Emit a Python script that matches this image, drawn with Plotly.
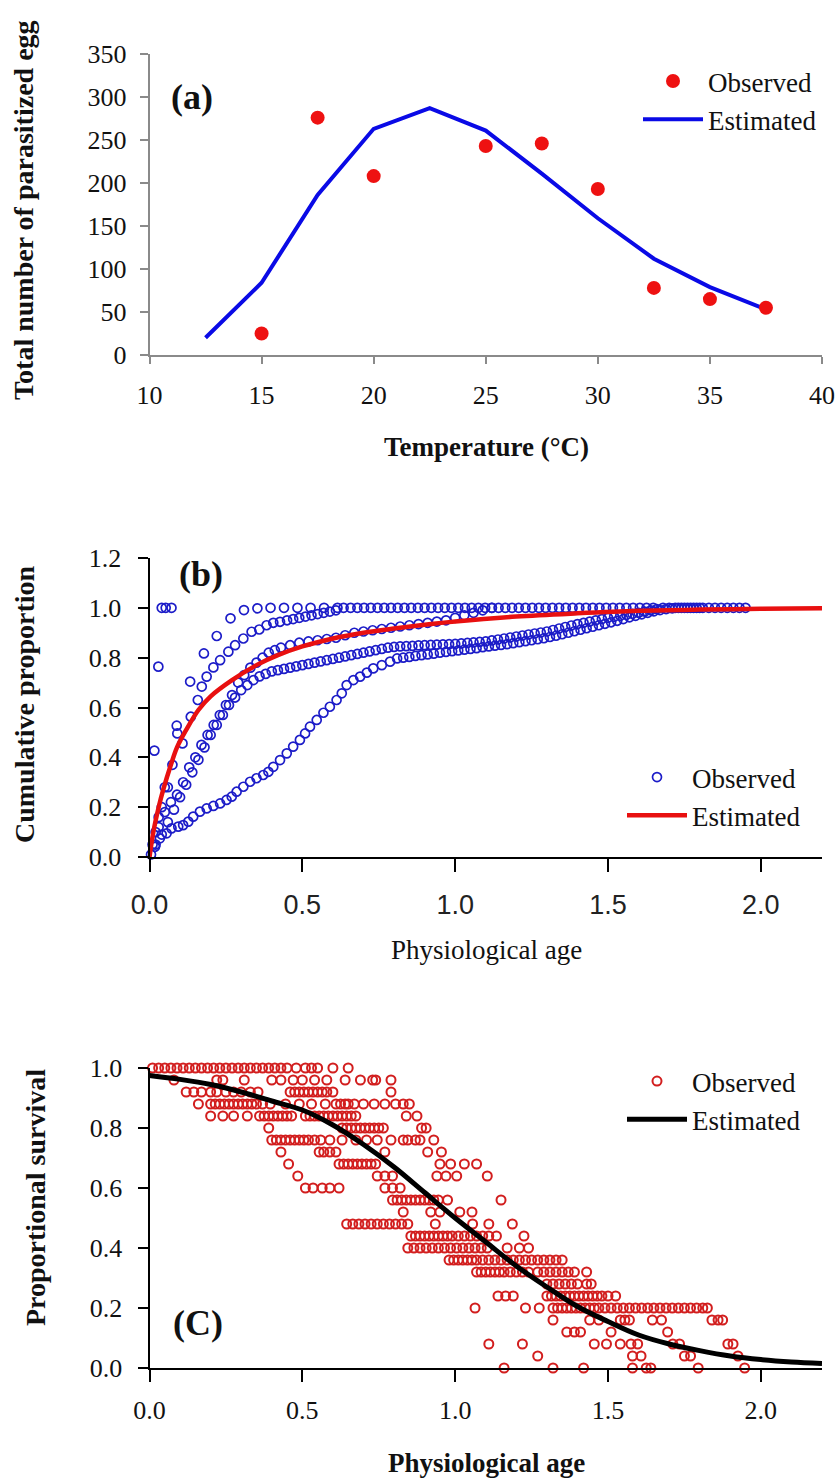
import plotly.graph_objects as go

W, H = 839, 1481


def px(x):
    """page pixel x -> paper fraction"""
    return x / W


def py(y):
    """page pixel y -> paper fraction"""
    return 1 - y / H


SERIF = "Liberation Serif"
SANS = "Liberation Sans"

# ---------------- Panel (a) ----------------
temp_obs = [15, 17.5, 20, 25, 27.5, 30, 32.5, 35, 37.5]
eggs_obs = [25, 276, 208, 243, 246, 193, 78, 65, 55]
temp_est = [12.5, 15, 17.5, 20, 22.5, 25, 27.5, 30, 32.5, 35, 37.5]
eggs_est = [20, 84, 186, 263, 287, 261, 211, 159, 112, 79, 53]
a_xticks = [10, 15, 20, 25, 30, 35, 40]
a_yticks = [0, 50, 100, 150, 200, 250, 300, 350]

# ---------------- Panel (b) : cumulative proportion ----------------
b1_x = [0.016, 0.029, 0.040, 0.053, 0.072]
b1_y = [0.427, 0.764, 1.000, 1.000, 1.000]

b2_x = [0.010, 0.030, 0.050, 0.089, 0.133, 0.178, 0.220, 0.265, 0.309, 0.353,
        0.396, 0.440, 0.484, 0.527, 0.571, 0.615, 0.658, 0.702, 0.746, 0.790,
        0.834, 0.878, 0.922, 0.966, 1.010, 1.054, 1.098, 1.142, 1.186, 1.230,
        1.274, 1.318, 1.362, 1.406, 1.450, 1.494, 1.538, 1.582, 1.626]
b2_y = [0.05, 0.16, 0.28, 0.527, 0.704, 0.817, 0.887, 0.958, 0.991, 0.998,
        1.0, 1.0, 1.0, 1.0, 1.0, 1.0, 1.0, 1.0, 1.0, 1.0,
        1.0, 1.0, 1.0, 1.0, 1.0, 1.0, 1.0, 1.0, 1.0, 1.0,
        1.0, 1.0, 1.0, 1.0, 1.0, 1.0, 1.0, 1.0, 1.0]

b3_x = [0.020, 0.040, 0.060, 0.075, 0.091, 0.108, 0.135, 0.158, 0.171, 0.187,
        0.209, 0.231, 0.258, 0.280, 0.307, 0.334, 0.359, 0.383, 0.405, 0.427,
        0.450, 0.470, 0.490, 0.510, 0.530, 0.550, 0.570, 0.590, 0.610, 0.635,
        0.680, 0.724, 0.768, 0.812, 0.856, 0.900, 0.944, 0.988, 1.032, 1.076,
        1.120, 1.164, 1.208, 1.252, 1.296, 1.340, 1.384, 1.428, 1.472, 1.516,
        1.560, 1.604, 1.648]
b3_y = [0.10, 0.20, 0.28, 0.37, 0.496, 0.456, 0.563, 0.630, 0.684, 0.724,
        0.761, 0.790, 0.824, 0.850, 0.877, 0.904, 0.913, 0.930, 0.940, 0.944,
        0.950, 0.955, 0.960, 0.965, 0.970, 0.975, 0.980, 0.985, 0.990, 1.0,
        1.0, 1.0, 1.0, 1.0, 1.0, 1.0, 1.0, 1.0, 1.0, 1.0,
        1.0, 1.0, 1.0, 1.0, 1.0, 1.0, 1.0, 1.0, 1.0, 1.0,
        1.0, 1.0, 1.0]

b4_x = [0.03, 0.05, 0.07, 0.09, 0.11, 0.13, 0.15, 0.17, 0.19, 0.21,
        0.23, 0.25, 0.27, 0.29, 0.31, 0.33, 0.35, 0.37, 0.39, 0.41,
        0.43, 0.46, 0.49, 0.52, 0.55, 0.58, 0.61, 0.64, 0.67, 0.70,
        0.73, 0.76, 0.79, 0.82, 0.85, 0.88, 0.91, 0.94, 0.97, 1.00,
        1.03, 1.06, 1.09, 1.12]
b4_y = [0.12, 0.18, 0.22, 0.25, 0.30, 0.36, 0.40, 0.45, 0.49, 0.53,
        0.57, 0.61, 0.65, 0.70, 0.73, 0.76, 0.78, 0.80, 0.82, 0.83,
        0.84, 0.85, 0.86, 0.865, 0.87, 0.875, 0.88, 0.89, 0.90, 0.905,
        0.91, 0.915, 0.92, 0.925, 0.93, 0.935, 0.94, 0.945, 0.95, 0.96,
        0.97, 0.98, 0.99, 1.0]

b5_x = [0.02, 0.04, 0.06, 0.08, 0.10, 0.12, 0.14, 0.16, 0.18, 0.20,
        0.22, 0.24, 0.26, 0.28, 0.30, 0.32, 0.34, 0.36, 0.38, 0.40,
        0.42, 0.44, 0.46, 0.48, 0.50, 0.52, 0.54, 0.56, 0.58, 0.60,
        0.62, 0.64, 0.66, 0.68, 0.70, 0.72, 0.74, 0.76, 0.78, 0.80,
        0.82, 0.84, 0.86, 0.88, 0.90, 0.92, 0.94, 0.96, 0.98, 1.00,
        1.02, 1.04, 1.06, 1.08, 1.10, 1.12, 1.14, 1.16, 1.18, 1.20,
        1.22, 1.24, 1.26, 1.28, 1.30, 1.32, 1.34, 1.36, 1.38, 1.40,
        1.42, 1.44, 1.46, 1.48, 1.50, 1.52, 1.54, 1.56, 1.58, 1.60,
        1.62, 1.64, 1.66, 1.68, 1.70, 1.72, 1.74, 1.76, 1.78, 1.80]
b5_y = [0.05, 0.09, 0.14, 0.19, 0.24, 0.29, 0.34, 0.39, 0.44, 0.49,
        0.53, 0.57, 0.61, 0.64, 0.67, 0.69, 0.71, 0.725, 0.735, 0.745,
        0.75, 0.755, 0.76, 0.765, 0.77, 0.775, 0.78, 0.785, 0.79, 0.795,
        0.80, 0.805, 0.81, 0.815, 0.82, 0.825, 0.83, 0.835, 0.84, 0.843,
        0.845, 0.846, 0.847, 0.849, 0.850, 0.851, 0.852, 0.853, 0.854, 0.855,
        0.857, 0.859, 0.861, 0.863, 0.865, 0.869, 0.873, 0.877, 0.881, 0.885,
        0.889, 0.893, 0.897, 0.901, 0.905, 0.911, 0.917, 0.923, 0.929, 0.935,
        0.940, 0.945, 0.950, 0.955, 0.960, 0.964, 0.968, 0.972, 0.976, 0.980,
        0.985, 0.990, 0.995, 1.0, 1.0, 1.0, 1.0, 1.0, 1.0, 1.0]

b6_x = [0.005, 0.018, 0.034, 0.056, 0.072, 0.094, 0.110, 0.127, 0.143, 0.165,
        0.187, 0.209, 0.231, 0.252, 0.269, 0.285, 0.307, 0.329, 0.350, 0.372,
        0.389, 0.405, 0.427, 0.449, 0.470, 0.492, 0.509, 0.525, 0.547, 0.569,
        0.590, 0.612, 0.629, 0.645, 0.667, 0.689, 0.711, 0.732, 0.760, 0.787,
        0.81, 0.83, 0.85, 0.87, 0.89, 0.91, 0.93, 0.95, 0.97, 0.99,
        1.01, 1.03, 1.05, 1.07, 1.09, 1.11, 1.13, 1.15, 1.17, 1.19,
        1.21, 1.23, 1.25, 1.27, 1.29, 1.31, 1.33, 1.35, 1.37, 1.39,
        1.41, 1.43, 1.45, 1.47, 1.49, 1.51, 1.53, 1.55, 1.57, 1.59,
        1.61, 1.63, 1.65, 1.67, 1.69, 1.71, 1.73, 1.75, 1.77, 1.79,
        1.81, 1.83, 1.85, 1.87, 1.89, 1.91, 1.93, 1.95]
b6_y = [0.010, 0.041, 0.075, 0.095, 0.115, 0.122, 0.128, 0.142, 0.162, 0.182,
        0.195, 0.205, 0.215, 0.229, 0.242, 0.262, 0.282, 0.302, 0.316, 0.329,
        0.342, 0.362, 0.389, 0.416, 0.443, 0.470, 0.496, 0.523, 0.550, 0.579,
        0.603, 0.630, 0.657, 0.690, 0.710, 0.724, 0.740, 0.757, 0.770, 0.784,
        0.797, 0.800, 0.803, 0.807, 0.810, 0.813, 0.816, 0.820, 0.823, 0.826,
        0.829, 0.832, 0.835, 0.838, 0.842, 0.845, 0.848, 0.851, 0.854, 0.858,
        0.862, 0.866, 0.870, 0.874, 0.878, 0.883, 0.888, 0.894, 0.900, 0.906,
        0.912, 0.918, 0.924, 0.930, 0.936, 0.942, 0.948, 0.955, 0.962, 0.968,
        0.974, 0.980, 0.986, 0.991, 0.995, 0.998, 1.0, 1.0, 1.0, 1.0,
        1.0, 1.0, 1.0, 1.0, 1.0, 1.0, 1.0, 1.0]

b_est_x = [0.0, 0.0125, 0.03, 0.045, 0.07, 0.09, 0.12, 0.16, 0.20, 0.27,
           0.35, 0.42, 0.50, 0.60, 0.70, 0.80, 0.90, 1.00, 1.20, 1.40,
           1.60, 1.80, 2.00, 2.20]
b_est_y = [0.0, 0.10, 0.20, 0.27, 0.37, 0.44, 0.51, 0.59, 0.645, 0.71,
           0.77, 0.81, 0.845, 0.877, 0.900, 0.917, 0.932, 0.945, 0.965, 0.978,
           0.988, 0.993, 0.996, 0.998]
b_xticks = [0.0, 0.5, 1.0, 1.5, 2.0]
b_yticks = [0.0, 0.2, 0.4, 0.6, 0.8, 1.0, 1.2]

# ---------------- Panel (c) : proportional survival ----------------
c_x_100 = [0.01, 0.03, 0.05, 0.07, 0.09, 0.11, 0.13, 0.15, 0.17, 0.19, 0.21,
           0.23, 0.25, 0.27, 0.29, 0.31, 0.33, 0.35, 0.37, 0.39, 0.41, 0.43,
           0.45, 0.48, 0.51, 0.53, 0.55, 0.60, 0.65]
c_x_096 = [0.08, 0.22, 0.24, 0.31, 0.40, 0.43, 0.47, 0.50, 0.54, 0.58, 0.64,
           0.69, 0.73, 0.74, 0.79]
c_x_092 = [0.12, 0.145, 0.17, 0.20, 0.22, 0.25, 0.275, 0.30, 0.33, 0.355,
           0.46, 0.475, 0.49, 0.505, 0.52, 0.535, 0.55, 0.565, 0.58, 0.60, 0.79]
c_x_088 = [0.16, 0.20, 0.215, 0.23, 0.245, 0.26, 0.275, 0.29, 0.305, 0.32, 0.335,
           0.35, 0.37, 0.395, 0.445, 0.49, 0.53, 0.575, 0.61, 0.625, 0.64, 0.65,
           0.67, 0.70, 0.735, 0.77, 0.805, 0.83, 0.85]
c_x_084 = [0.20, 0.24, 0.275, 0.32, 0.36, 0.375, 0.39, 0.405, 0.42, 0.435, 0.45,
           0.465, 0.51, 0.525, 0.54, 0.555, 0.57, 0.585, 0.60, 0.615, 0.63, 0.645,
           0.66, 0.675, 0.84, 0.875]
c_x_080 = [0.39, 0.63, 0.645, 0.66, 0.675, 0.69, 0.705, 0.72, 0.735, 0.75, 0.765,
           0.89, 0.905]
c_x_076 = [0.40, 0.415, 0.43, 0.445, 0.46, 0.475, 0.49, 0.505, 0.52, 0.54, 0.56,
           0.59, 0.63, 0.675, 0.71, 0.745, 0.79, 0.83, 0.845, 0.87, 0.885, 0.93]
c_x_072 = [0.43, 0.555, 0.57, 0.59, 0.61, 0.77, 0.91, 0.955]
c_x_068 = [0.455, 0.62, 0.635, 0.65, 0.665, 0.68, 0.695, 0.71, 0.725, 0.74,
           0.95, 0.985, 1.03, 1.07]
c_x_064 = [0.485, 0.745, 0.77, 0.795, 0.94, 0.97, 1.005, 1.105]
c_x_060 = [0.51, 0.535, 0.565, 0.59, 0.62, 0.77, 0.795, 0.82]
c_x_056 = [0.795, 0.81, 0.825, 0.84, 0.855, 0.87, 0.885, 0.90, 0.915, 0.93,
           0.945, 0.975, 1.15]
c_x_052 = [0.83, 0.92, 0.95, 1.015, 1.055]
c_x_048 = [0.645, 0.665, 0.685, 0.705, 0.725, 0.745, 0.765, 0.785, 0.805, 0.825,
           0.845, 0.935, 1.057, 1.11, 1.187]
c_x_044 = [0.855, 0.87, 0.885, 0.90, 0.915, 0.93, 0.945, 0.96, 0.975, 0.99,
           1.01, 1.03, 1.05, 1.07, 1.09, 1.11, 1.135, 1.225]
c_x_040 = [0.845, 0.865, 0.885, 0.905, 0.925, 0.945, 0.965, 0.985, 1.005, 1.025,
           1.045, 1.065, 1.085, 1.105, 1.17, 1.21, 1.24]
c_x_036 = [0.98, 0.995, 1.01, 1.025, 1.04, 1.055, 1.07, 1.09, 1.11, 1.13, 1.15,
           1.17, 1.19, 1.21, 1.23, 1.25, 1.27, 1.29, 1.31, 1.33, 1.35]
c_x_032 = [1.07, 1.085, 1.10, 1.115, 1.13, 1.145, 1.16, 1.18, 1.20, 1.22, 1.24,
           1.27, 1.29, 1.31, 1.33, 1.35, 1.37, 1.39, 1.43]
c_x_028 = [1.30, 1.32, 1.34, 1.36, 1.38, 1.40, 1.43, 1.445]
c_x_024 = [1.14, 1.165, 1.19, 1.30, 1.315, 1.33, 1.345, 1.36, 1.375, 1.39, 1.405,
           1.42, 1.435, 1.45, 1.465, 1.48, 1.50, 1.525]
c_x_020 = [1.065, 1.23, 1.275, 1.32, 1.335, 1.35, 1.365, 1.38, 1.395, 1.41, 1.425,
           1.44, 1.455, 1.47, 1.49, 1.51, 1.53, 1.55, 1.57, 1.59, 1.61, 1.63,
           1.65, 1.67, 1.69, 1.71, 1.73, 1.75, 1.77, 1.79, 1.81, 1.825]
c_x_016 = [1.32, 1.44, 1.47, 1.54, 1.555, 1.57, 1.645, 1.675, 1.84, 1.86, 1.875]
c_x_012 = [1.365, 1.39, 1.41, 1.51, 1.695]
c_x_008 = [1.11, 1.22, 1.455, 1.495, 1.54, 1.575, 1.597, 1.712, 1.734, 1.892, 1.909]
c_x_004 = [1.27, 1.58, 1.608, 1.75, 1.77, 1.925]
c_x_000 = [1.16, 1.32, 1.42, 1.58, 1.625, 1.64, 1.795, 1.947]

c_levels = [1.00, 0.96, 0.92, 0.88, 0.84, 0.80, 0.76, 0.72, 0.68, 0.64, 0.60,
            0.56, 0.52, 0.48, 0.44, 0.40, 0.36, 0.32, 0.28, 0.24, 0.20, 0.16,
            0.12, 0.08, 0.04, 0.00]
c_level_x = [c_x_100, c_x_096, c_x_092, c_x_088, c_x_084, c_x_080, c_x_076,
             c_x_072, c_x_068, c_x_064, c_x_060, c_x_056, c_x_052, c_x_048,
             c_x_044, c_x_040, c_x_036, c_x_032, c_x_028, c_x_024, c_x_020,
             c_x_016, c_x_012, c_x_008, c_x_004, c_x_000]

c_est_x = [0.0, 0.1, 0.2, 0.3, 0.4, 0.5, 0.6, 0.7, 0.8, 0.9, 1.0, 1.1, 1.2,
           1.3, 1.4, 1.5, 1.6, 1.7, 1.8, 1.9, 2.0, 2.1, 2.2]
c_est_y = [0.975, 0.962, 0.945, 0.920, 0.890, 0.860, 0.810, 0.745, 0.670, 0.585,
           0.500, 0.420, 0.340, 0.270, 0.205, 0.155, 0.110, 0.080, 0.058, 0.040,
           0.028, 0.020, 0.015]
c_xticks = [0.0, 0.5, 1.0, 1.5, 2.0]
c_yticks = [0.0, 0.2, 0.4, 0.6, 0.8, 1.0]

# ---- assemble observed series ----
b_obs_x = b1_x + b2_x + b3_x + b4_x + b5_x + b6_x
b_obs_y = b1_y + b2_y + b3_y + b4_y + b5_y + b6_y
c_obs_x, c_obs_y = [], []
for lvl, xs in zip(c_levels, c_level_x):
    c_obs_x += xs
    c_obs_y += [lvl] * len(xs)

fig = go.Figure()

# (a)
fig.add_trace(go.Scatter(x=temp_est, y=eggs_est, mode="lines", name="Estimated",
                         line=dict(color="#0a0ae6", width=4), xaxis="x", yaxis="y",
                         legend="legend", legendrank=2, cliponaxis=False))
fig.add_trace(go.Scatter(x=temp_obs, y=eggs_obs, mode="markers", name="Observed",
                         marker=dict(color="#ee1111", size=14), xaxis="x", yaxis="y",
                         legend="legend", legendrank=1, cliponaxis=False))
# (b)
fig.add_trace(go.Scatter(x=b_obs_x, y=b_obs_y, mode="markers", name="Observed",
                         marker=dict(symbol="circle-open", color="#1c1cc8", size=9,
                                     line=dict(width=1.7, color="#1c1cc8")),
                         xaxis="x2", yaxis="y2", legend="legend2", legendrank=1,
                         cliponaxis=False))
fig.add_trace(go.Scatter(x=b_est_x, y=b_est_y, mode="lines", name="Estimated",
                         line=dict(color="#e81010", width=4.5, shape="spline"),
                         xaxis="x2", yaxis="y2", legend="legend2", legendrank=2,
                         cliponaxis=False))
# (c)
fig.add_trace(go.Scatter(x=c_obs_x, y=c_obs_y, mode="markers", name="Observed",
                         marker=dict(symbol="circle-open", color="#d21e1e", size=9,
                                     line=dict(width=2.0, color="#d21e1e")),
                         xaxis="x3", yaxis="y3", legend="legend3", legendrank=1,
                         cliponaxis=False))
fig.add_trace(go.Scatter(x=c_est_x, y=c_est_y, mode="lines", name="Estimated",
                         line=dict(color="black", width=5, shape="spline"),
                         xaxis="x3", yaxis="y3", legend="legend3", legendrank=2,
                         cliponaxis=False))

xdom = [px(149.5), px(822)]


def axis_common(color, lw, tlen, font, standoff):
    return dict(showline=True, linecolor=color, linewidth=lw, ticks="outside",
                ticklen=tlen, tickwidth=lw, tickcolor=color, showgrid=False,
                zeroline=False, tickfont=font, ticklabelstandoff=standoff,
                ticklabeloverflow="allow", fixedrange=True, automargin=False)


serif_tick = dict(family=SERIF, size=26, color="#111")
sans_tick = dict(family=SANS, size=27, color="#222")
leg_font = dict(family=SERIF, size=27, color="#111")

fig.update_layout(
    width=W, height=H, autosize=False,
    margin=dict(l=0, r=0, t=0, b=0, pad=0, autoexpand=False),
    paper_bgcolor="white", plot_bgcolor="white",
    xaxis=dict(domain=xdom, range=[10, 40], anchor="y", tickvals=a_xticks,
               **axis_common("#8a8a8a", 1.5, 7, serif_tick, 9)),
    yaxis=dict(domain=[py(355), py(54)], range=[0, 350], anchor="x", tickvals=a_yticks,
               **axis_common("#8a8a8a", 1.5, 8, serif_tick, 8)),
    xaxis2=dict(domain=xdom, range=[0, 2.2], anchor="y2", tickvals=b_xticks,
                ticktext=[f"{v:.1f}" for v in b_xticks],
                **axis_common("black", 2, 13, sans_tick, 10)),
    yaxis2=dict(domain=[py(857), py(558)], range=[0, 1.2], anchor="x2", tickvals=b_yticks,
                ticktext=[f"{v:.1f}" for v in b_yticks],
                **axis_common("black", 2, 10, serif_tick, 11)),
    xaxis3=dict(domain=xdom, range=[0, 2.2], anchor="y3", tickvals=c_xticks,
                ticktext=[f"{v:.1f}" for v in c_xticks],
                **axis_common("black", 2, 12, serif_tick, 6)),
    yaxis3=dict(domain=[py(1368), py(1068)], range=[0, 1.0], anchor="x3", tickvals=c_yticks,
                ticktext=[f"{v:.1f}" for v in c_yticks],
                **axis_common("black", 2, 10, serif_tick, 10)),
    legend=dict(x=px(638), y=py(57), xanchor="left", yanchor="top",
                font=leg_font, bgcolor="rgba(0,0,0,0)", itemwidth=60, tracegroupgap=0),
    legend2=dict(x=px(622), y=py(753), xanchor="left", yanchor="top",
                 font=leg_font, bgcolor="rgba(0,0,0,0)", itemwidth=60, tracegroupgap=0),
    legend3=dict(x=px(622), y=py(1057), xanchor="left", yanchor="top",
                 font=leg_font, bgcolor="rgba(0,0,0,0)", itemwidth=60, tracegroupgap=0),
    showlegend=True,
)

ann = []


def add_text(text, x, y, size, bold=False, angle=0, family=SERIF):
    t = f"<b>{text}</b>" if bold else text
    ann.append(dict(text=t, x=px(x), y=py(y), xref="paper", yref="paper",
                    xanchor="center", yanchor="middle", showarrow=False,
                    textangle=angle, font=dict(family=family, size=size, color="#111")))


add_text("Total number of parasitized egg", 24, 210, 28, bold=True, angle=-90)
add_text("Temperature (°C)", 486, 447, 27, bold=True)
add_text("(a)", 192, 97, 36, bold=True)
add_text("Cumulative proportion", 24, 704, 28, bold=True, angle=-90)
add_text("Physiological age", 486, 950, 27)
add_text("(b)", 201, 574, 36, bold=True)
add_text("Proportional survival", 35, 1198, 28, bold=True, angle=-90)
add_text("Physiological age", 486, 1463, 27, bold=True)
add_text("(C)", 198, 1323, 36, bold=True)

fig.update_layout(annotations=ann)
fig.write_html(
    "out.html",
    config={"displayModeBar": False},
    post_script="document.body.style.margin='0';document.body.style.overflow='hidden';",
)
